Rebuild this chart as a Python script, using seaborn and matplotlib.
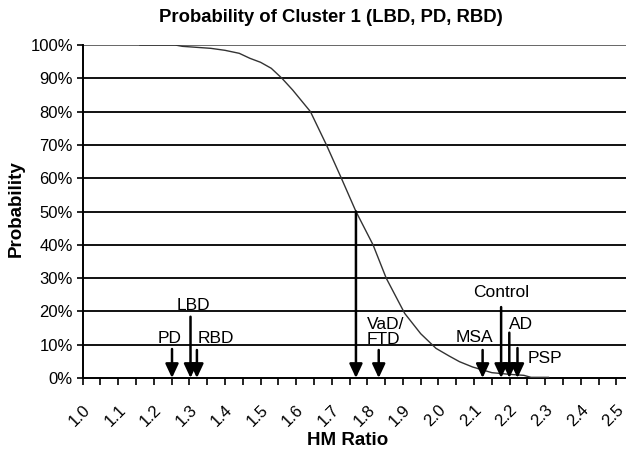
import matplotlib
matplotlib.use("Agg")
import matplotlib.pyplot as plt
import matplotlib.transforms as mtransforms
import seaborn as sns
import pandas as pd
import numpy as np
from matplotlib.ticker import MultipleLocator, FuncFormatter

sns.set_theme(style="white")
plt.rcParams['font.family'] = ['Liberation Sans', 'DejaVu Sans']
plt.rcParams.update({'text.color': 'black', 'axes.labelcolor': 'black',
                     'xtick.color': 'black', 'ytick.color': 'black'})

# ---- data ----
hm_ratio = [1.16, 1.26, 1.28, 1.32, 1.36, 1.40, 1.44, 1.47, 1.50, 1.53, 1.56, 1.59,
            1.64, 1.685, 1.727, 1.768, 1.816, 1.853, 1.905, 1.95, 1.993, 2.03, 2.059,
            2.096, 2.15, 2.20, 2.24, 2.26, 2.31]
probability = [100.0, 100.0, 99.6, 99.3, 99.0, 98.4, 97.5, 96.0, 94.8, 93.0, 90.0, 86.5,
               80.0, 70.0, 60.0, 50.0, 40.0, 30.0, 19.4, 13.3, 8.9, 6.6, 4.9,
               3.3, 1.6, 1.1, 0.8, 0.2, 0.2]

groups = ["PD", "LBD", "RBD", "", "VaD/\nFTD", "MSA", "Control", "AD", "PSP"]
group_hm = [1.251, 1.303, 1.321, 1.768, 1.832, 2.124, 2.176, 2.199, 2.222]

x_ticks = [1.0, 1.1, 1.2, 1.3, 1.4, 1.5, 1.6, 1.7, 1.8, 1.9, 2.0, 2.1, 2.2, 2.3, 2.4, 2.5]
y_ticks = [0, 10, 20, 30, 40, 50, 60, 70, 80, 90, 100]

# ---- layout (arrow tops and label placement, in data units) ----
arrow_top = [8.7, 18.4, 8.4, 50.0, 8.4, 8.4, 21.3, 13.6, 9.0]
label_xy = [(1.245, 12.0, 'center'), (1.310, 21.9, 'center'), (1.374, 12.0, 'center'),
            None, (1.799, 13.8, 'left'), (2.102, 12.3, 'center'),
            (2.177, 25.8, 'center'), (2.233, 16.2, 'center'), (2.299, 6.0, 'center')]

df = pd.DataFrame({"HM Ratio": hm_ratio, "Probability": probability})

fig = plt.figure(figsize=(6.26, 4.49), dpi=100)
ax = fig.add_axes([82.7 / 626, 1 - 378 / 449, 1 - 82.7 / 626, 333 / 449])

for yv in y_ticks[1:]:
    ax.axhline(yv, color='#111111' if yv < 100 else '#666666', lw=1.4, zorder=1)

sns.lineplot(data=df, x="HM Ratio", y="Probability", ax=ax, color='#333333',
             lw=1.0, zorder=3)

for name, gx, top, lab in zip(groups, group_hm, arrow_top, label_xy):
    ax.annotate("", xy=(gx, 0), xytext=(gx, top),
                arrowprops=dict(arrowstyle='-|>,head_length=0.6,head_width=0.28',
                                color='black', lw=1.8, mutation_scale=14,
                                shrinkA=0, shrinkB=0), zorder=4)
    if lab is not None:
        lx, ly, ha = lab
        ax.text(lx, ly, name, ha=ha, va='center', fontsize=12.5, color='black',
                linespacing=1.0, zorder=5)

ax.set_xlim(1.0, 2.527)
ax.set_ylim(0, 100)
ax.set_xticks(x_ticks)
ax.xaxis.set_minor_locator(MultipleLocator(0.05))
ax.set_yticks(y_ticks)
ax.yaxis.set_major_formatter(FuncFormatter(lambda v, p: f"{int(v)}%"))
ax.xaxis.set_major_formatter(FuncFormatter(lambda v, p: f"{v:.1f}"))

for s in ['top', 'right']:
    ax.spines[s].set_visible(False)
for s in ['left', 'bottom']:
    ax.spines[s].set_color('black')
    ax.spines[s].set_linewidth(1.4)

ax.tick_params(axis='x', which='both', direction='out', length=5, width=1.2,
               color='black', bottom=True, pad=12.5, labelsize=12)
ax.tick_params(axis='y', which='major', direction='out', length=4, width=1.2,
               color='black', left=True, pad=3, labelsize=12)
offset = mtransforms.ScaledTranslation(-3 / 100, 0, fig.dpi_scale_trans)
for t in ax.get_xticklabels():
    t.set_rotation(45)
    t.set_ha('center')
    t.set_va('top')
    t.set_transform(t.get_transform() + offset)

ax.set_xlabel("HM Ratio", fontsize=13.5, fontweight='bold')
ax.xaxis.set_label_coords(0.488, -0.162)
ax.set_ylabel("Probability", fontsize=13.5, fontweight='bold')
ax.yaxis.set_label_coords(-0.106, 0.51)

fig.text(331 / 626, 1 - 18 / 449, "Probability of Cluster 1 (LBD, PD, RBD)",
         ha='center', va='center', fontsize=13.3, fontweight='bold')

fig.savefig("out.png", dpi=100)
